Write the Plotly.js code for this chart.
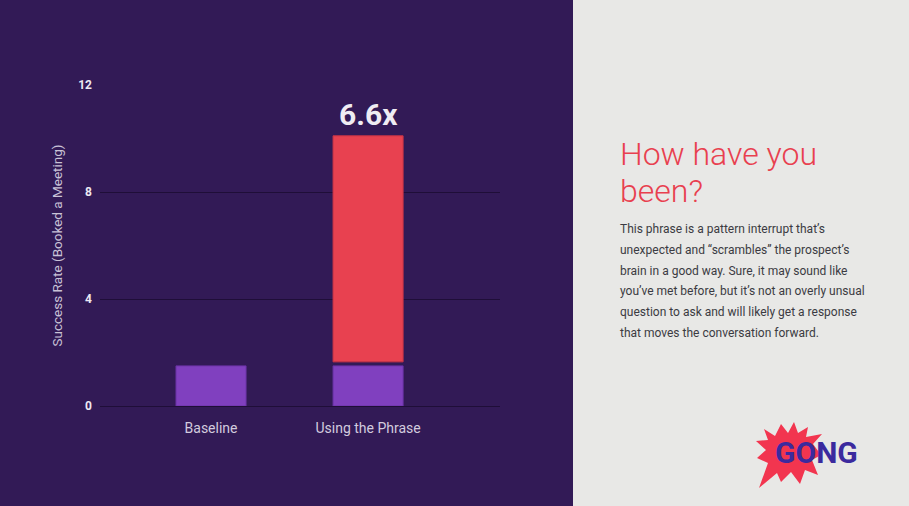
<!DOCTYPE html>
<html>
<head>
<meta charset="utf-8">
<script src="https://cdn.plot.ly/plotly-3.0.1.min.js"></script>
<style>html,body{margin:0;padding:0;background:#e8e8e6;}#chart{width:909px;height:506px;}</style>
</head>
<body>
<div id="chart"></div>
<script>
// ---- data ----
const categories = ['Baseline', 'Using the Phrase'];
const baselineValues = [1.5, 1.5];
const phraseBase = [null, 1.65];
const phraseValues = [null, 8.45];
const multiplierLabel = '6.6x';
const yTickValues = [0, 4, 8, 12];
const yTitle = 'Success Rate (Booked a Meeting)';
const headingLines = ['How have you', 'been?'];
const bodyLines = [
  "This phrase is a pattern interrupt that\u2019s",
  "unexpected and \u201cscrambles\u201d the prospect\u2019s",
  "brain in a good way. Sure, it may sound like",
  "you\u2019ve met before, but it\u2019s not an overly unsual",
  "question to ask and will likely get a response",
  "that moves the conversation forward."
];
const logoText = 'GONG';

// ---- layout helpers (pixel -> paper) ----
const W = 909, H = 506, ML = 100, MR = 409, MT = 85, MB = 100;
const PW = W - ML - MR, PH = H - MT - MB;
const px = x => (x - ML) / PW;
const py = y => (H - MB - y) / PH;

const traces = [
  {
    type: 'bar', x: categories, y: baselineValues, width: 0.446,
    marker: {color: '#8040bf', line: {color: '#6a33a6', width: 1}},
    hoverinfo: 'skip'
  },
  {
    type: 'bar', x: categories, y: phraseValues, base: phraseBase, width: 0.446,
    marker: {color: '#e84150', line: {color: '#c93445', width: 1}},
    hoverinfo: 'skip'
  }
];

const annotations = [];
const topTotal = phraseBase[1] + phraseValues[1];
annotations.push({
  x: categories[1], y: topTotal, xref: 'x', yref: 'y', yanchor: 'bottom', yshift: 2,
  text: '<b>' + multiplierLabel + '</b>', showarrow: false,
  font: {family: 'Roboto', size: 30, color: '#efecf3'}
});
headingLines.forEach((t, i) => {
  annotations.push({
    x: px(618), y: py(154 + i * 37), xref: 'paper', yref: 'paper',
    xanchor: 'left', yanchor: 'middle', text: t, showarrow: false,
    font: {family: 'Roboto', size: 32, color: '#e8404f', weight: 300}
  });
});
bodyLines.forEach((t, i) => {
  annotations.push({
    x: px(618), y: py(229 + i * 20.8), xref: 'paper', yref: 'paper',
    xanchor: 'left', yanchor: 'middle', text: t, showarrow: false,
    font: {family: 'Roboto', size: 12, color: '#3b3b42'}
  });
});
annotations.push({
  x: px(816), y: py(453), xref: 'paper', yref: 'paper',
  xanchor: 'center', yanchor: 'middle', text: '<b>' + logoText + '</b>', showarrow: false,
  font: {family: 'Roboto', size: 30, color: '#3b2a9e', weight: 900}
});

const burstPts = [
  [764,429],[775,436],[781,424],[788,433],[794,422],[798,433],[808,427],[806,437],
  [822,434],[813,444],[821,455],[812,460],[818,475],[805,470],[800,484],[791,472],
  [781,482],[777,473],[759,488],[768,463],[757,458],[766,450],[756,441],[768,440]
];
const burstPath = burstPts.map((p, i) => (i ? 'L' : 'M') + px(p[0]).toFixed(4) + ',' + py(p[1]).toFixed(4)).join(' ') + ' Z';

const shapes = [
  {type: 'rect', xref: 'paper', yref: 'paper', x0: px(0), x1: px(573), y0: py(H), y1: py(0),
   fillcolor: '#321a56', line: {width: 0}, layer: 'below'},
  {type: 'path', xref: 'paper', yref: 'paper', path: burstPath,
   fillcolor: '#f2354f', line: {width: 0}, layer: 'below'}
];

const layout = {
  width: W, height: H,
  margin: {l: ML, r: MR, t: MT, b: MB, pad: 0},
  paper_bgcolor: '#e8e8e6', plot_bgcolor: 'rgba(0,0,0,0)',
  showlegend: false, barmode: 'overlay',
  font: {family: 'Roboto', color: '#d6d0e0'},
  xaxis: {
    type: 'category', range: [-0.707, 1.84], showgrid: false, zeroline: false,
    showline: false, ticks: '', ticklabelstandoff: 12,
    tickfont: {family: 'Roboto', size: 14, color: '#d2cbde'}
  },
  yaxis: {
    range: [0, 12], tickvals: yTickValues, ticktext: yTickValues.map(v => '<b>' + v + '</b>'),
    showgrid: true, gridcolor: '#1f0e38', gridwidth: 1,
    zeroline: true, zerolinecolor: '#1f0e38', zerolinewidth: 1,
    showline: false, ticks: '', ticklabelstandoff: 7,
    tickfont: {family: 'Roboto', size: 12, color: '#ece8f2'},
    title: {text: yTitle, standoff: 12, font: {family: 'Roboto', size: 13.5, color: '#c9c2d6'}}
  },
  shapes: shapes,
  annotations: annotations
};

Plotly.newPlot('chart', traces, layout, {displayModeBar: false, staticPlot: true});
</script>
</body>
</html>
